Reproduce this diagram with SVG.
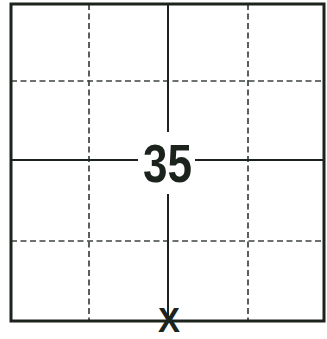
<svg xmlns="http://www.w3.org/2000/svg" width="327" height="339" viewBox="0 0 327 339">
<style>
.dash{stroke:#3f443f;stroke-width:1.7;stroke-dasharray:6 3.5;fill:none}
.solid{stroke:#1c231c;stroke-width:2;fill:none}
.lbl{font-family:"Liberation Sans",Arial,sans-serif;font-weight:bold;fill:#1c231c;text-anchor:middle}
</style>
<rect x="0" y="0" width="327" height="339" fill="#fff"/>
<g id="grid">
<line class="dash" x1="89" y1="4" x2="89" y2="321"/>
<line class="dash" x1="248" y1="4" x2="248" y2="321"/>
<line class="dash" x1="11" y1="81" x2="324" y2="81"/>
<line class="dash" x1="11" y1="241" x2="324" y2="241"/>
<line class="solid" x1="168" y1="4" x2="168" y2="321"/>
<line class="solid" x1="11" y1="160" x2="324" y2="160"/>
</g>
<rect x="11" y="4" width="313" height="317" fill="none" stroke="#1c231c" stroke-width="3"/>
<g id="label35">
<rect x="138" y="132" width="57" height="62" fill="#fff"/>
<text class="lbl" x="167.5" y="182" font-size="54" textLength="49" lengthAdjust="spacingAndGlyphs">35</text>
</g>
<g id="markX">
<text class="lbl" x="169" y="332" font-size="35" textLength="22" lengthAdjust="spacingAndGlyphs">X</text>
</g>
</svg>
